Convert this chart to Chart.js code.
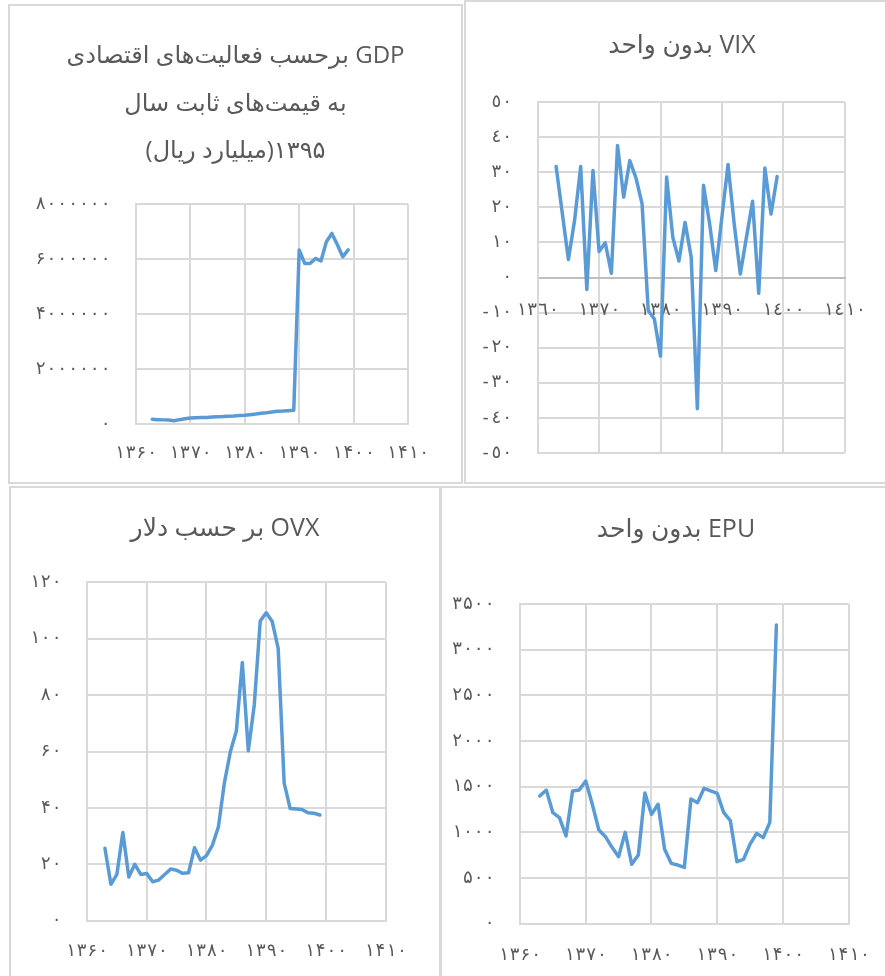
<!DOCTYPE html>
<html lang="fa">
<head>
<meta charset="UTF-8">
<title>GDP, VIX, OVX, EPU</title>
<script src="https://cdn.jsdelivr.net/npm/chart.js@4.4.1/dist/chart.umd.min.js"></script>
<style>
  html, body { margin: 0; padding: 0; background: #fff; }
  body { width: 885px; height: 976px; position: relative; overflow: hidden; }
  .panel { position: absolute; box-sizing: border-box; border: 2px solid #d9d9d9; background: #fff; }
  .panel canvas { display: block; }
</style>
</head>
<body>
<div class="panel" style="left:8px;top:4px;width:455px;height:480px"><canvas id="gdpChart" width="451" height="476"></canvas></div>
<div class="panel" style="left:464px;top:0px;width:436px;height:484px"><canvas id="vixChart" width="432" height="480"></canvas></div>
<div class="panel" style="left:9px;top:486px;width:432px;height:495px"><canvas id="ovxChart" width="428" height="491"></canvas></div>
<div class="panel" style="left:440px;top:486px;width:472px;height:495px"><canvas id="epuChart" width="468" height="491"></canvas></div>

<script>
// years 1363..1399
const years = [1363, 1364, 1365, 1366, 1367, 1368, 1369, 1370, 1371, 1372, 1373, 1374, 1375,
  1376, 1377, 1378, 1379, 1380, 1381, 1382, 1383, 1384, 1385, 1386, 1387, 1388, 1389, 1390,
  1391, 1392, 1393, 1394, 1395, 1396, 1397, 1398, 1399];

const gdpValues = [170000, 158000, 150000, 145000, 120000, 158000, 190000, 220000, 230000, 236000,
  240000, 255000, 265000, 270000, 280000, 290000, 310000, 320000, 340000, 360000, 390000, 410000,
  440000, 460000, 470000, 485000, 500000, 6330000, 5840000, 5840000, 6020000, 5930000, 6630000,
  6930000, 6530000, 6080000, 6330000];

const vixValues = [31.6, 18.4, 5.1, 16.2, 31.6, -3.4, 30.5, 7.4, 9.9, 1.2, 37.6, 22.9, 33.3, 28.4,
  21.0, -9.4, -11.8, -22.4, 28.6, 11.5, 4.7, 15.7, 5.8, -37.4, 26.3, 15.3, 2.0, 17.2, 32.2, 15.3,
  1.0, 11.5, 21.7, -4.5, 31.2, 18.1, 28.8];

const ovxValues = [25.7, 12.9, 16.4, 31.3, 15.5, 20.0, 16.4, 16.7, 13.8, 14.4, 16.4, 18.3, 17.9,
  16.8, 17.0, 25.9, 21.5, 23.1, 26.8, 33.3, 48.9, 59.9, 67.3, 91.6, 60.3, 76.5, 106.3, 109.2,
  106.1, 96.6, 48.9, 39.8, 39.6, 39.4, 38.3, 38.1, 37.5];

const epuValues = [1398, 1463, 1215, 1161, 960, 1453, 1463, 1562, 1307, 1026, 953, 836, 734, 1000,
  650, 752, 1431, 1197, 1307, 814, 661, 642, 617, 1365, 1325, 1482, 1453, 1427, 1215, 1128, 679,
  704, 872, 989, 942, 1109, 3270];

// tick labels
const yearLabelsFa = ['۱۳۶۰', '۱۳۷۰', '۱۳۸۰', '۱۳۹۰', '۱۴۰۰', '۱۴۱۰'];
const yearLabelsAr = ['١٣٦٠', '١٣٧٠', '١٣٨٠', '١٣٩٠', '١٤٠٠', '١٤١٠'];
const gdpYLabels = ['۰', '۲۰۰۰۰۰۰', '۴۰۰۰۰۰۰', '۶۰۰۰۰۰۰', '۸۰۰۰۰۰۰'];
const vixYLabels = ['-٥٠', '-٤٠', '-٣٠', '-٢٠', '-١٠', '٠', '١٠', '٢٠', '٣٠', '٤٠', '٥٠'];
const ovxYLabels = ['۰', '۲۰', '۴۰', '۶۰', '۸۰', '۱۰۰', '۱۲۰'];
const epuYLabels = ['۰', '۵۰۰', '۱۰۰۰', '۱۵۰۰', '۲۰۰۰', '۲۵۰۰', '۳۰۰۰', '۳۵۰۰'];

// titles
const gdpTitle = ['GDP برحسب فعالیت‌های اقتصادی', 'به قیمت‌های ثابت سال', '۱۳۹۵(میلیارد ریال)'];
const vixTitle = ['VIX بدون واحد'];
const ovxTitle = ['OVX بر حسب دلار'];
const epuTitle = ['EPU بدون واحد'];

const rtl = s => '\u202B' + s + '\u202C';
const gridColor = '#d9d9d9';
const textColor = '#595959';
const tickFont = { family: '"DejaVu Sans Mono", "DejaVu Sans", sans-serif', size: 18 };

function makeChart(id, o) {
  const pts = years.map((x, i) => ({ x: x, y: o.values[i] }));
  return new Chart(document.getElementById(id), {
    type: 'line',
    data: {
      datasets: [{
        data: pts,
        borderColor: '#5b9bd5',
        borderWidth: 3.5,
        pointRadius: 0,
        tension: 0,
        borderJoinStyle: 'round',
        borderCapStyle: 'round'
      }]
    },
    options: {
      responsive: false,
      animation: false,
      layout: { padding: { left: 0, top: 0, right: 0, bottom: o.padBottom } },
      plugins: {
        legend: { display: false },
        tooltip: { enabled: false },
        title: {
          display: true,
          text: o.title.map(rtl),
          color: textColor,
          font: { family: '"Open Sans", "DejaVu Sans", sans-serif', size: o.titleSize, weight: 'normal', lineHeight: o.titleLine },
          padding: { top: o.titleTop, bottom: o.titleBottom }
        }
      },
      scales: {
        x: {
          type: 'linear',
          position: o.xPos,
          min: 1360, max: 1410,
          ticks: {
            stepSize: 10, autoSkip: false, maxRotation: 0, minRotation: 0,
            color: textColor, font: tickFont, padding: o.xTickPad,
            callback: (v, i) => o.xLabels[i]
          },
          grid: { color: gridColor, lineWidth: 2, drawTicks: false },
          border: { color: o.xBorder, width: 2 },
          afterFit: s => { if (o.xHeight) s.height = o.xHeight; }
        },
        y: {
          min: o.yMin, max: o.yMax,
          ticks: {
            stepSize: o.yStep, color: textColor, font: tickFont, padding: 0,
            callback: (v, i) => o.yLabels[i]
          },
          grid: { color: gridColor, lineWidth: 2, drawTicks: true, tickLength: 25, tickColor: 'rgba(0,0,0,0)' },
          border: { color: gridColor, width: 2 },
          afterFit: s => { s.width = o.yWidth; }
        },
        // empty right-hand space, keeps the title centred on the panel
        yRight: {
          position: 'right',
          grid: { display: false },
          border: { display: false },
          ticks: { display: false },
          afterFit: s => { s.width = o.padRight; }
        }
      }
    }
  });
}

makeChart('gdpChart', {
  values: gdpValues, title: gdpTitle, titleSize: 24, titleLine: '47.5px', titleTop: 26.5, titleBottom: 29,
  padRight: 53, padBottom: 0, xPos: 'bottom', xHeight: 58, xTickPad: 19, xBorder: gridColor,
  xLabels: yearLabelsFa, yLabels: gdpYLabels, yMin: 0, yMax: 8000000, yStep: 2000000, yWidth: 126
});

makeChart('vixChart', {
  values: vixValues, title: vixTitle, titleSize: 25, titleLine: '30px', titleTop: 29, titleBottom: 41,
  padRight: 53.3, padBottom: 29, xPos: { y: 0 }, xHeight: 0, xTickPad: 22, xBorder: '#bfbfbf',
  xLabels: yearLabelsAr, yLabels: vixYLabels, yMin: -50, yMax: 50, yStep: 10, yWidth: 71.7
});

makeChart('ovxChart', {
  values: ovxValues, title: ovxTitle, titleSize: 25, titleLine: '30px', titleTop: 26, titleBottom: 38.3,
  padRight: 53.3, padBottom: 0, xPos: 'bottom', xHeight: 58.3, xTickPad: 20, xBorder: gridColor,
  xLabels: yearLabelsFa, yLabels: ovxYLabels, yMin: 0, yMax: 120, yStep: 20, yWidth: 76
});

makeChart('epuChart', {
  values: epuValues, title: epuTitle, titleSize: 25, titleLine: '30px', titleTop: 27, titleBottom: 59,
  padRight: 61.3, padBottom: 0, xPos: 'bottom', xHeight: 55.3, xTickPad: 21, xBorder: gridColor,
  xLabels: yearLabelsFa, yLabels: epuYLabels, yMin: 0, yMax: 3500, yStep: 500, yWidth: 78
});
</script>
</body>
</html>
